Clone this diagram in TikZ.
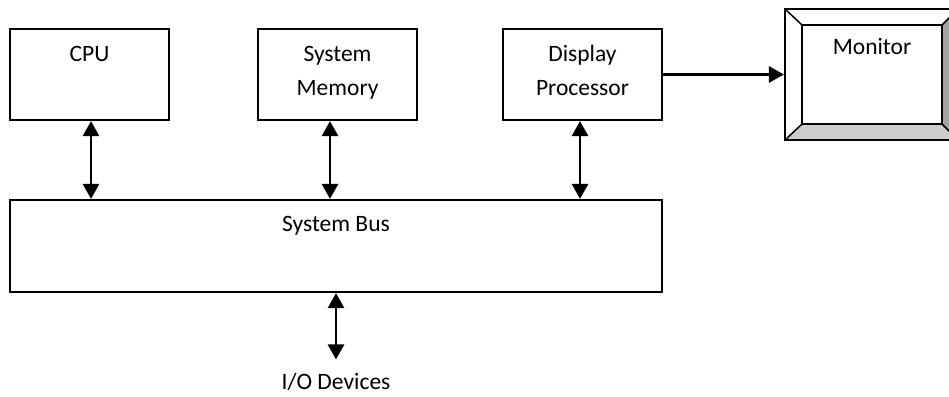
\documentclass[tikz,border=0pt]{standalone}
\usepackage{fontspec}
\setmainfont{Carlito}
\usetikzlibrary{arrows.meta}
\begin{document}
\begin{tikzpicture}[x=1pt,y=-1pt,
  box/.style={draw=black,line width=2.2pt,fill=white,rectangle,inner sep=0pt},
  txt/.style={inner sep=0pt,anchor=base,align=center,font=\fontsize{23.5}{34}\selectfont},
  arr/.style={line width=2.8pt,-{Triangle[length=15pt,width=16pt]}},
  dbl/.style={line width=2.8pt,{Triangle[length=15pt,width=16pt]}-{Triangle[length=15pt,width=16pt]}}]
\useasboundingbox (0,0) rectangle (949,396);
\clip (0,0) rectangle (949,396);
% boxes
\node[box,minimum width=159pt,minimum height=91pt] (cpu) at (89.5,74.5) {};
\node[box,minimum width=159pt,minimum height=91pt] (mem) at (337.5,74.5) {};
\node[box,minimum width=159pt,minimum height=91pt] (disp) at (582.5,74.5) {};
\node[box,minimum width=652pt,minimum height=92pt] (bus) at (336,246) {};
% monitor
\node[box,minimum width=173pt,minimum height=131pt] (monitor) at (871.5,74.5) {};
\fill[white] (785,9) -- (958,9) -- (942,25) -- (802,25) -- (802,124) -- (785,140) -- cycle;
\fill[black!20] (785,140) -- (802,124) -- (942,124) -- (958,140) -- cycle;
\fill[black!36] (942,25) -- (958,9) -- (958,140) -- (942,124) -- cycle;
\draw[line width=2.2pt] (785,9) rectangle (958,140);
\draw[line width=2.2pt] (802,25) rectangle (942,124);
\draw[line width=1.5pt] (785,9) -- (802,25) (958,9) -- (942,25) (785,140) -- (802,124) (958,140) -- (942,124);
% texts
\node[txt] (cput) at (89.5,61) {CPU};
\node[txt] (memt) at (337.5,95) {System\\Memory};
\node[txt] (dispt) at (582.5,95) {Display\\Processor};
\node[txt] (bust) at (336,231.5) {System Bus};
\node[txt] (mont) at (872,55) {Monitor};
\node[txt] (io) at (336,389) {I/O Devices};
% connectors
\draw[dbl] ([xshift=1.5pt]cpu.south) -- ([xshift=1.5pt]cpu.south |- bus.north);
\draw[dbl] ([xshift=-7.5pt]mem.south) -- ([xshift=-7.5pt]mem.south |- bus.north);
\draw[dbl] ([xshift=-2.5pt]disp.south) -- ([xshift=-2.5pt]disp.south |- bus.north);
\draw[dbl] (bus.south) -- ([yshift=13pt]io.north);
\draw[arr] (disp.east) -- (monitor.west);
\end{tikzpicture}
\end{document}
